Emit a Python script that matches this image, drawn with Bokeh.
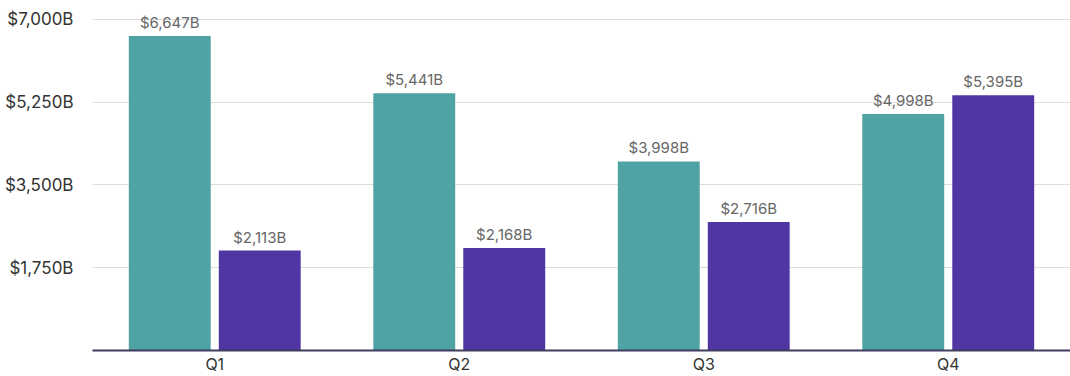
from bokeh.plotting import figure
from bokeh.models import ColumnDataSource, FixedTicker, Range1d
from bokeh.transform import dodge
from bokeh.core.properties import value
from bokeh.embed import file_html
from bokeh.resources import INLINE

quarters = ["Q1", "Q2", "Q3", "Q4"]
series_a = [6647, 5441, 3998, 4998]
series_b = [2113, 2168, 2716, 5395]
y_ticks = [1750, 3500, 5250, 7000]
y_tick_labels = ["$1,750B", "$3,500B", "$5,250B", "$7,000B"]

FONT = "Inter"
TEAL = "#4fa3a5"
PURPLE = "#4f36a3"

src = ColumnDataSource(dict(
    q=quarters,
    a=series_a,
    b=series_b,
    a_lbl=[f"${v:,}B" for v in series_a],
    b_lbl=[f"${v:,}B" for v in series_b],
))

p = figure(x_range=quarters, y_range=Range1d(0, 7400), width=1070, height=376,
           output_backend="svg", toolbar_location=None,
           min_border_left=92, min_border_right=0, min_border_top=0, min_border_bottom=25)
p.outline_line_color = None
p.background_fill_color = "white"
p.border_fill_color = "white"

p.vbar(x=dodge("q", -0.184, range=p.x_range), top="a", width=0.335, source=src,
       fill_color=TEAL, line_color=None)
p.vbar(x=dodge("q", 0.184, range=p.x_range), top="b", width=0.335, source=src,
       fill_color=PURPLE, line_color=None)

for off, col, lbl in [(-0.184, "a", "a_lbl"), (0.184, "b", "b_lbl")]:
    p.text(x=dodge("q", off, range=p.x_range), y=col, text=lbl, source=src,
           text_align="center", text_baseline="bottom", y_offset=-4,
           text_font=value(FONT), text_font_size="15px", text_color="#666666")

p.xgrid.grid_line_color = None
p.ygrid.grid_line_color = "#dddddd"
p.ygrid.ticker = FixedTicker(ticks=y_ticks)

p.yaxis.ticker = FixedTicker(ticks=y_ticks)
p.yaxis.major_label_overrides = dict(zip(y_ticks, y_tick_labels))
p.yaxis.axis_line_color = None
p.yaxis.major_tick_line_color = None
p.yaxis.major_tick_out = 0
p.yaxis.major_tick_in = 0
p.yaxis.minor_tick_line_color = None
p.yaxis.major_label_standoff = 19
p.yaxis.major_label_text_font = FONT
p.yaxis.major_label_text_font_size = "17px"
p.yaxis.major_label_text_color = "#333333"

p.xaxis.axis_line_color = "#3f3c5e"
p.xaxis.axis_line_width = 2
p.xaxis.major_tick_line_color = None
p.xaxis.major_tick_out = 0
p.xaxis.major_tick_in = 0
p.xaxis.minor_tick_line_color = None
p.xaxis.major_label_standoff = 3
p.xaxis.major_label_text_font = FONT
p.xaxis.major_label_text_font_size = "16px"
p.xaxis.major_label_text_color = "#333333"

open("out.html", "w").write(file_html(p, INLINE))
